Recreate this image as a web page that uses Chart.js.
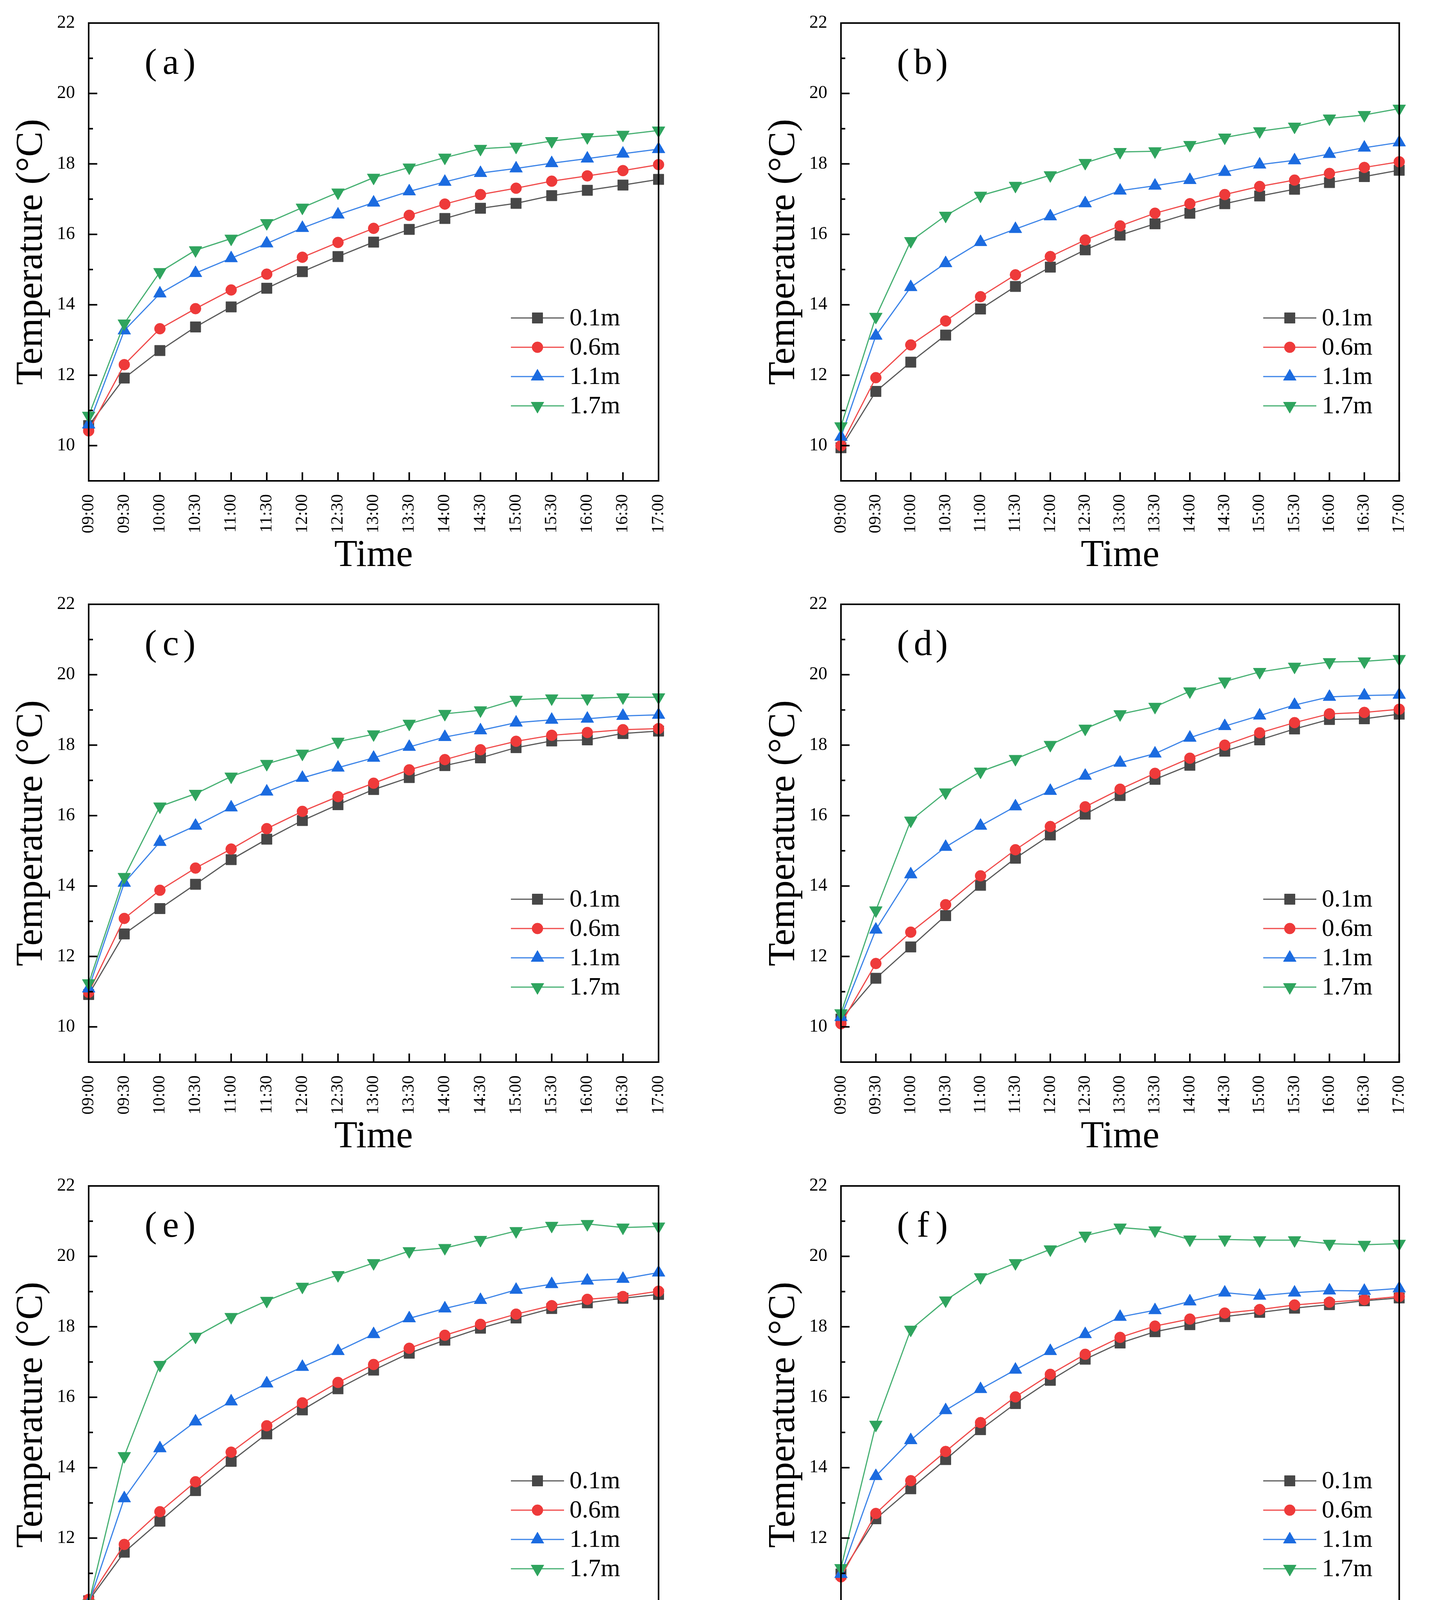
<!DOCTYPE html>
<html>
<head>
<meta charset="utf-8">
<script src="https://cdn.jsdelivr.net/npm/chart.js@4.4.1/dist/chart.umd.min.js"></script>
<style>
  html, body { margin: 0; padding: 0; background: #fff; overflow: hidden; }
  #wrap { position: relative; width: 3661px; height: 4506px; background: #fff; }
  canvas { position: absolute; }
</style>
</head>
<body>
<div id="wrap"></div>
<script>
// x categories and labels
const times = ['09:00', '09:30', '10:00', '10:30', '11:00', '11:30', '12:00', '12:30',
               '13:00', '13:30', '14:00', '14:30', '15:00', '15:30', '16:00', '16:30', '17:00'];
const heights = ['0.1m', '0.6m', '1.1m', '1.7m'];
const yLabels = [10, 12, 14, 16, 18, 20, 22];

// (a)
const a01 = [10.57, 11.92, 12.70, 13.37, 13.94, 14.47, 14.94, 15.37, 15.78, 16.14, 16.45, 16.74, 16.88, 17.10, 17.25, 17.40, 17.56];
const a06 = [10.42, 12.30, 13.32, 13.89, 14.42, 14.87, 15.35, 15.77, 16.17, 16.54, 16.86, 17.13, 17.31, 17.51, 17.66, 17.81, 17.98];
const a11 = [10.60, 13.27, 14.32, 14.90, 15.32, 15.74, 16.18, 16.56, 16.90, 17.22, 17.49, 17.74, 17.87, 18.02, 18.15, 18.29, 18.42];
const a17 = [10.85, 13.47, 14.93, 15.55, 15.88, 16.32, 16.76, 17.19, 17.61, 17.90, 18.18, 18.43, 18.49, 18.65, 18.76, 18.83, 18.95];
// (b)
const b01 = [9.94, 11.54, 12.37, 13.14, 13.88, 14.52, 15.07, 15.56, 15.98, 16.30, 16.60, 16.87, 17.09, 17.28, 17.47, 17.64, 17.82];
const b06 = [10.00, 11.93, 12.86, 13.54, 14.23, 14.85, 15.37, 15.84, 16.24, 16.60, 16.87, 17.13, 17.36, 17.54, 17.73, 17.90, 18.06];
const b11 = [10.25, 13.12, 14.50, 15.18, 15.78, 16.15, 16.51, 16.88, 17.24, 17.38, 17.54, 17.77, 17.98, 18.10, 18.28, 18.46, 18.61];
const b17 = [10.55, 13.66, 15.81, 16.53, 17.10, 17.38, 17.68, 18.03, 18.34, 18.36, 18.54, 18.75, 18.93, 19.06, 19.29, 19.39, 19.57];
// (c)
const c01 = [10.92, 12.64, 13.36, 14.05, 14.75, 15.33, 15.86, 16.31, 16.74, 17.08, 17.42, 17.64, 17.93, 18.12, 18.15, 18.33, 18.40];
const c06 = [10.98, 13.08, 13.88, 14.51, 15.05, 15.63, 16.12, 16.54, 16.92, 17.30, 17.59, 17.87, 18.11, 18.28, 18.36, 18.44, 18.47];
const c11 = [11.09, 14.09, 15.25, 15.71, 16.23, 16.68, 17.07, 17.36, 17.64, 17.95, 18.23, 18.42, 18.64, 18.72, 18.75, 18.83, 18.86];
const c17 = [11.24, 14.26, 16.26, 16.62, 17.11, 17.47, 17.76, 18.10, 18.31, 18.61, 18.89, 18.99, 19.29, 19.33, 19.33, 19.36, 19.36];
// (d)
const d01 = [10.22, 11.38, 12.27, 13.16, 14.02, 14.79, 15.45, 16.04, 16.57, 17.03, 17.43, 17.83, 18.15, 18.46, 18.73, 18.75, 18.88];
const d06 = [10.09, 11.80, 12.69, 13.47, 14.29, 15.03, 15.69, 16.25, 16.75, 17.20, 17.63, 18.00, 18.35, 18.64, 18.89, 18.93, 19.02];
const d11 = [10.28, 12.76, 14.33, 15.11, 15.71, 16.26, 16.70, 17.13, 17.50, 17.76, 18.21, 18.54, 18.84, 19.14, 19.37, 19.41, 19.43];
const d17 = [10.39, 13.31, 15.86, 16.66, 17.25, 17.61, 18.01, 18.47, 18.88, 19.09, 19.53, 19.81, 20.08, 20.23, 20.36, 20.38, 20.45];
// (e)
const e01 = [10.22, 11.60, 12.48, 13.35, 14.18, 14.96, 15.64, 16.24, 16.77, 17.25, 17.62, 17.96, 18.25, 18.52, 18.68, 18.81, 18.92];
const e06 = [10.26, 11.82, 12.75, 13.60, 14.44, 15.19, 15.84, 16.42, 16.93, 17.39, 17.76, 18.07, 18.36, 18.60, 18.78, 18.86, 19.01];
const e11 = [10.14, 13.13, 14.55, 15.31, 15.88, 16.39, 16.86, 17.31, 17.79, 18.24, 18.52, 18.76, 19.05, 19.21, 19.31, 19.36, 19.54];
const e17 = [10.14, 14.33, 16.92, 17.72, 18.28, 18.74, 19.14, 19.47, 19.81, 20.15, 20.24, 20.47, 20.72, 20.87, 20.92, 20.82, 20.85];
// (f)
const f01 = [10.98, 12.55, 13.40, 14.23, 15.08, 15.82, 16.48, 17.08, 17.54, 17.86, 18.06, 18.29, 18.41, 18.53, 18.63, 18.74, 18.82];
const f06 = [10.90, 12.70, 13.63, 14.46, 15.28, 16.01, 16.65, 17.22, 17.70, 18.02, 18.22, 18.39, 18.49, 18.62, 18.70, 18.77, 18.86];
const f11 = [10.98, 13.76, 14.78, 15.63, 16.23, 16.78, 17.31, 17.79, 18.28, 18.47, 18.72, 18.97, 18.88, 18.97, 19.03, 19.02, 19.09];
const f17 = [11.15, 15.22, 17.92, 18.75, 19.41, 19.81, 20.20, 20.59, 20.82, 20.74, 20.48, 20.48, 20.46, 20.46, 20.36, 20.33, 20.36];

// marker / line styles per height
const styles = [
  { line: '#5a5a5a', fill: '#474747', shape: 'rect',     r: 19, rot: 0 },
  { line: '#f04a4a', fill: '#ee3a3a', shape: 'circle',   r: 14, rot: 0 },
  { line: '#3c84e8', fill: '#1b6be0', shape: 'triangle', r: 19, rot: 0 },
  { line: '#46b072', fill: '#2fa45e', shape: 'triangle', r: 19, rot: 180 }
];

const SERIF = '"Liberation Serif", "Times New Roman", serif';
const PW = 1459, PH = 1172;           // plot box size
const colX = [0, 1830], colW = [1830, 1831], plotX = [227, 2153];
const rowY = [0, 1488, 2976], rowH = [1488, 1488, 1530], plotY = [59, 1547, 3036];

const panels = [
  { tag: 'a', col: 0, row: 0, series: [a01, a06, a11, a17] },
  { tag: 'b', col: 1, row: 0, series: [b01, b06, b11, b17] },
  { tag: 'c', col: 0, row: 1, series: [c01, c06, c11, c17] },
  { tag: 'd', col: 1, row: 1, series: [d01, d06, d11, d17] },
  { tag: 'e', col: 0, row: 2, series: [e01, e06, e11, e17] },
  { tag: 'f', col: 1, row: 2, series: [f01, f06, f11, f17] }
];

function marker(ctx, st, x, y) {
  ctx.fillStyle = st.fill;
  ctx.strokeStyle = st.fill;
  ctx.lineWidth = 1;
  Chart.helpers.drawPoint(ctx, { pointStyle: st.shape, rotation: st.rot, radius: st.r, borderWidth: 1 }, x, y);
}

// frame, inward ticks, axis titles, panel tag and legend
const decor = {
  id: 'decor',
  afterDraw(chart, args, opts) {
    const { ctx, chartArea: a, scales: { x, y } } = chart;
    ctx.save();
    ctx.strokeStyle = '#000';
    ctx.lineWidth = 4;
    ctx.beginPath();
    for (let v = 9; v <= 22; v++) {
      const py = y.getPixelForValue(v);
      ctx.moveTo(a.left, py);
      ctx.lineTo(a.left + (v % 2 === 0 ? 22 : 11), py);
    }
    times.forEach((t, i) => {
      const px = x.getPixelForValue(i);
      ctx.moveTo(px, a.bottom);
      ctx.lineTo(px, a.bottom - 22);
    });
    ctx.stroke();
    ctx.strokeRect(a.left, a.top, a.right - a.left, a.bottom - a.top);

    ctx.fillStyle = '#000';
    ctx.font = '97px ' + SERIF;
    ctx.textAlign = 'center';
    ctx.textBaseline = 'middle';
    ctx.fillText('Time', (a.left + a.right) / 2, a.bottom + 193);
    ctx.save();
    ctx.translate(a.left - 145, (a.top + a.bottom) / 2);
    ctx.rotate(-Math.PI / 2);
    ctx.fillText('Temperature (°C)', 0, 0);
    ctx.restore();

    // panel tag
    ctx.font = '94px ' + SERIF;
    ctx.textBaseline = 'alphabetic';
    ctx.fillText('(', a.left + 159, a.top + 130);
    ctx.fillText(opts.tag, a.left + 210, a.top + 130);
    ctx.fillText(')', a.left + 258, a.top + 130);

    // legend
    ctx.font = '64px ' + SERIF;
    ctx.textAlign = 'left';
    ctx.textBaseline = 'middle';
    heights.forEach((h, i) => {
      const st = styles[i];
      const ly = a.top + 755 + i * 75;
      ctx.strokeStyle = st.line;
      ctx.lineWidth = 3;
      ctx.beginPath();
      ctx.moveTo(a.left + 1081, ly);
      ctx.lineTo(a.left + 1217, ly);
      ctx.stroke();
      marker(ctx, st, a.left + 1149, ly);
      ctx.fillStyle = '#000';
      ctx.fillText(h, a.left + 1231, ly + 2);
    });
    ctx.restore();
  }
};

const wrap = document.getElementById('wrap');

panels.forEach(p => {
  const cx = colX[p.col], cw = colW[p.col], cy = rowY[p.row], ch = rowH[p.row];
  const yW = plotX[p.col] - cx;
  const padTop = plotY[p.row] - cy;
  const padRight = cx + cw - (plotX[p.col] + PW);
  const xH = cy + ch - (plotY[p.row] + PH);

  const canvas = document.createElement('canvas');
  canvas.width = cw;
  canvas.height = ch;
  canvas.style.left = cx + 'px';
  canvas.style.top = cy + 'px';
  canvas.style.width = cw + 'px';
  canvas.style.height = ch + 'px';
  wrap.appendChild(canvas);

  new Chart(canvas.getContext('2d'), {
    type: 'line',
    data: {
      labels: times,
      datasets: p.series.map((vals, i) => ({
        label: heights[i],
        data: vals,
        order: 4 - i,
        borderColor: styles[i].line,
        borderWidth: 3,
        backgroundColor: styles[i].fill,
        pointStyle: styles[i].shape,
        pointRotation: styles[i].rot,
        pointRadius: styles[i].r,
        pointBackgroundColor: styles[i].fill,
        pointBorderColor: styles[i].fill,
        pointBorderWidth: 1,
        tension: 0,
        fill: false
      }))
    },
    options: {
      responsive: false,
      animation: false,
      devicePixelRatio: 1,
      events: [],
      layout: { padding: { left: 0, top: padTop, right: padRight, bottom: 0 } },
      plugins: {
        legend: { display: false },
        tooltip: { enabled: false },
        decor: { tag: p.tag }
      },
      scales: {
        x: {
          type: 'category',
          offset: false,
          grid: { display: false },
          border: { display: false },
          ticks: {
            autoSkip: false, minRotation: 90, maxRotation: 90, padding: 26,
            color: '#000', font: { family: SERIF, size: 44 }
          },
          afterFit: s => { s.height = xH; }
        },
        y: {
          min: 9, max: 22,
          grid: { display: false },
          border: { display: false },
          ticks: {
            stepSize: 1, autoSkip: false, padding: 27,
            color: '#000', font: { family: SERIF, size: 46 },
            callback: v => yLabels.includes(v) ? String(v) : ''
          },
          afterFit: s => { s.width = yW; }
        }
      }
    },
    plugins: [decor]
  });
});
</script>
</body>
</html>
